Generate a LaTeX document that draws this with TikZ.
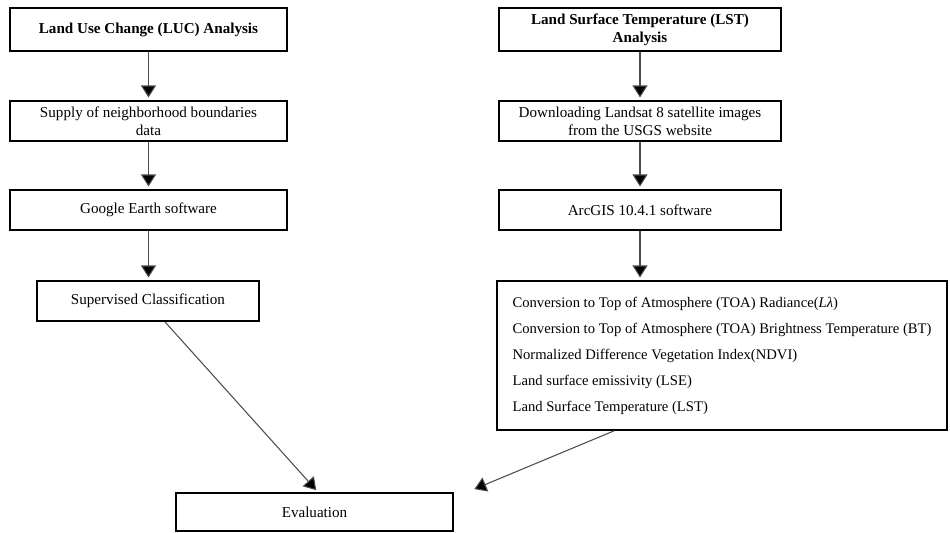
\documentclass[tikz,border=0pt]{standalone}
\usepackage{fontspec}
\setmainfont{Liberation Serif}
\usetikzlibrary{arrows.meta,calc}
\tikzset{
  box/.style={draw,line width=1pt,minimum height=.8cm,align=center,inner sep=2pt,font=\fontsize{8.6}{10.2}\selectfont},
  link/.style={draw=black!70,line width=.6pt,-{Triangle[length=.24cm,width=.3cm,fill=black]},shorten >=1.5pt}
}
\begin{document}
\begin{tikzpicture}[x=1cm,y=1cm]
\useasboundingbox (0,0) rectangle (19,10.64);
% land use column
\node[box,minimum width=5.54cm,minimum height=.86cm,font=\fontsize{8.6}{10.2}\selectfont\bfseries] (luc) at (2.97,10.05) {Land Use Change (LUC) Analysis};
\node[box,minimum width=5.54cm] (supply) at (2.97,8.22) {Supply of neighborhood boundaries\\data};
\node[box,minimum width=5.54cm] (google) at (2.97,6.44) {Google Earth software};
\node[box,minimum width=4.44cm] (classif) at (2.96,4.62) {Supervised Classification};
% temperature column
\node[box,minimum width=5.64cm,minimum height=.86cm,font=\fontsize{8.6}{10.2}\selectfont\bfseries] (lst) at (12.8,10.05) {Land Surface Temperature (LST)\\Analysis};
\node[box,minimum width=5.64cm] (landsat) at (12.8,8.22) {Downloading Landsat 8 satellite images\\from the USGS website};
\node[box,minimum width=5.64cm] (arcgis) at (12.8,6.44) {ArcGIS 10.4.1 software};
\node[box,align=left,minimum width=9cm,minimum height=2.98cm,font=\fontsize{8.33}{14.8}\selectfont] (steps) at (14.44,3.53) {Conversion to Top of Atmosphere (TOA) Radiance({\itshape Lλ})\\
Conversion to Top of Atmosphere (TOA) Brightness Temperature (BT)\\
Normalized Difference Vegetation Index(NDVI)\\
Land surface emissivity (LSE)\\
Land Surface Temperature (LST)};
% result
\node[box,minimum width=5.54cm,minimum height=.76cm] (eval) at (6.29,.4) {Evaluation};
\coordinate (evalin) at ($(eval.north east)+(.36,.04)$);

\draw[link] (luc) -- (supply);
\draw[link] (supply) -- (google);
\draw[link] (google.south) -- (google.south |- classif.north);
\draw[link] (lst) -- (landsat);
\draw[link] (landsat) -- (arcgis);
\draw[link] (arcgis.south) -- (arcgis.south |- steps.north);
\draw[link] ($(classif.south)+(.34,0)$) -- ($(eval.north)+(.07,0)$);
\draw[link] ($(steps.south)+(-2.16,0)$) -- (evalin);
\end{tikzpicture}
\end{document}
